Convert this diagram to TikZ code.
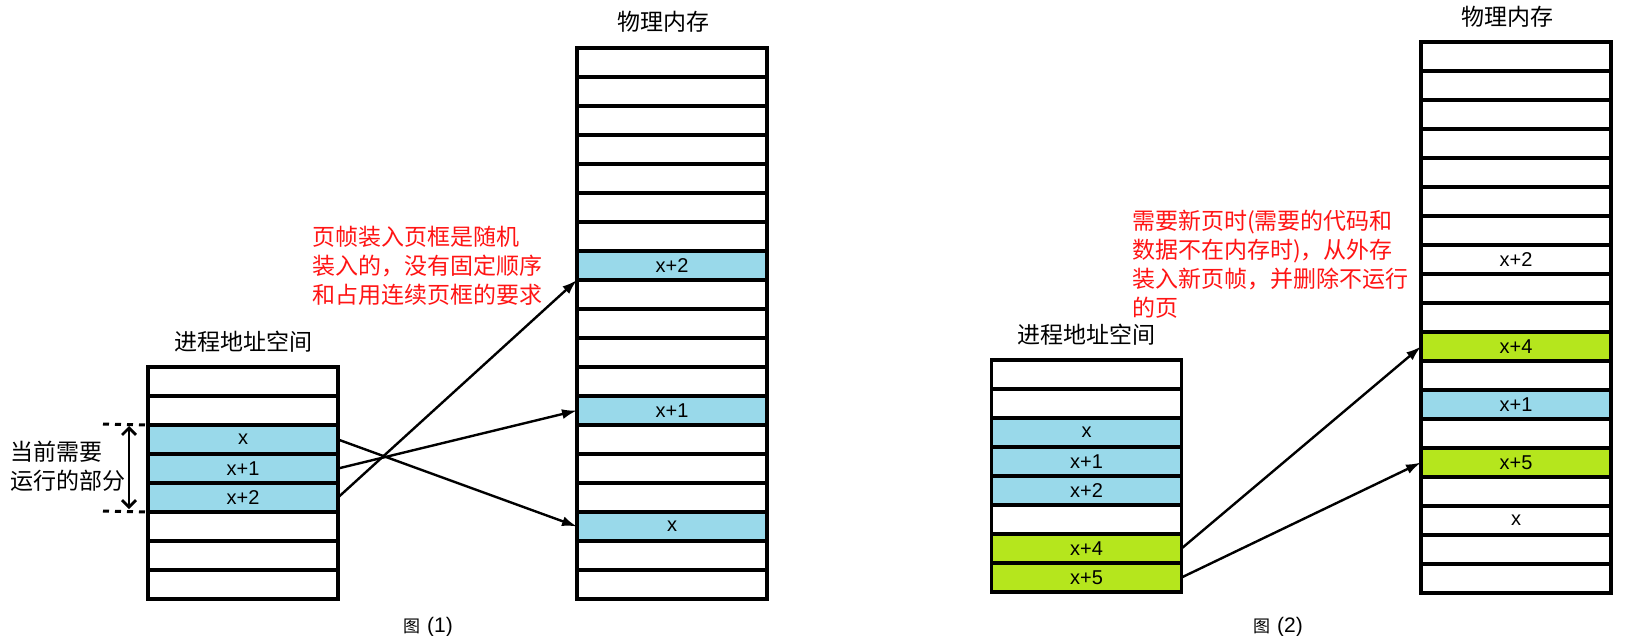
\documentclass[tikz,border=0pt]{standalone}
\usepackage{fontspec}
\setmainfont{Liberation Sans}
\newfontfamily\cjk{Noto Sans CJK SC}
\usepackage{tikz}
\usetikzlibrary{arrows.meta}
\definecolor{pageblue}{RGB}{153,217,234}
\definecolor{pagegreen}{RGB}{181,230,29}
\definecolor{notered}{RGB}{255,20,20}

\begin{document}
\begin{tikzpicture}[x=1pt,y=-1pt,
cell/.style={draw,line width=3.5pt,minimum width=190pt,minimum height=29pt,inner sep=0pt,outer sep=0pt,font=\fontsize{20}{24}\selectfont},
live/.style={cell,fill=pageblue},
fresh/.style={cell,fill=pagegreen},
head/.style={font=\cjk\fontsize{23}{28}\selectfont},
remark/.style={font=\cjk\fontsize{23}{29}\selectfont,text=notered,align=left,inner sep=0pt,anchor=west},
figcap/.style={font=\fontsize{21}{24}\selectfont},
t/.style={-{Latex[length=15pt,width=10pt]},line width=2.4pt}
]
\useasboundingbox (0,0) rectangle (1633,636);

% figure 1
\node[head] (pa1) at (243,342) {进程地址空间};
\foreach \i in {0,1,5,6,7}
  \node[cell] (p1-\i) at (243,{381.5+29*\i}) {};
\node[live] (p1-2) at (243,{381.5+29*2}) {x};
\node[live] (p1-3) at (243,{381.5+29*3}) {x+1};
\node[live] (p1-4) at (243,{381.5+29*4}) {x+2};

\node[head] (pm1) at (663,22) {物理内存};
\foreach \i in {0,...,6,8,9,10,11,13,14,15,17,18}
  \node[cell] (m1-\i) at (672,{62.5+29*\i}) {};
\node[live] (m1-7) at (672,{62.5+29*7}) {x+2};
\node[live] (m1-12) at (672,{62.5+29*12}) {x+1};
\node[live] (m1-16) at (672,{62.5+29*16}) {x};

\node[remark] (why1) at (312,266) {页帧装入页框是随机\\装入的，没有固定顺序\\和占用连续页框的要求};
\node[remark,text=black] (now) at (10,466) {当前需要\\运行的部分};

\coordinate (dtop) at (103,424);
\coordinate (dbot) at (103,511);
\coordinate (btop) at (129,426);
\coordinate (bbot) at (129,509);
\draw[line width=3pt,dash pattern=on 6pt off 6pt] (dtop) -- (p1-2.north west);
\draw[line width=3pt,dash pattern=on 6pt off 6pt] (dbot) -- (p1-4.south west);
\draw[line width=2.8pt,{Straight Barb[length=7pt,width=14pt]}-{Straight Barb[length=7pt,width=14pt]}] (btop) -- (bbot);

\draw[t] (p1-2.east) -- (m1-16.west);
\draw[t] (p1-3.east) -- (m1-12.west);
\draw[t] (p1-4.east) -- (m1-7.south west);

\node[figcap] (cap1) at (428,627) {{\cjk\fontsize{17}{20}\selectfont 图}\hspace{7pt}(1)};

% figure 2
\node[head] (pa2) at (1086,335) {进程地址空间};
\foreach \i in {0,1,5}
  \node[cell] (p2-\i) at (1086.5,{374.5+29*\i}) {};
\node[live] (p2-2) at (1086.5,{374.5+29*2}) {x};
\node[live] (p2-3) at (1086.5,{374.5+29*3}) {x+1};
\node[live] (p2-4) at (1086.5,{374.5+29*4}) {x+2};
\node[fresh] (p2-6) at (1086.5,{374.5+29*6}) {x+4};
\node[fresh] (p2-7) at (1086.5,{374.5+29*7}) {x+5};

\node[head] (pm2) at (1507,17) {物理内存};
\foreach \i in {0,...,6,8,9,11,13,15,17,18}
  \node[cell] (m2-\i) at (1516,{56.5+29*\i}) {};
\node[cell] (m2-7) at (1516,{56.5+29*7}) {x+2};
\node[fresh] (m2-10) at (1516,{56.5+29*10}) {x+4};
\node[live] (m2-12) at (1516,{56.5+29*12}) {x+1};
\node[fresh] (m2-14) at (1516,{56.5+29*14}) {x+5};
\node[cell] (m2-16) at (1516,{56.5+29*16}) {x};

\node[remark] (why2) at (1132,264.5) {需要新页时(需要的代码和\\数据不在内存时)，从外存\\装入新页帧，并删除不运行\\的页};

\draw[t] (p2-6.east) -- (m2-10.west);
\draw[t] (p2-7.east) -- (m2-14.west);

\node[figcap] (cap2) at (1278,627) {{\cjk\fontsize{17}{20}\selectfont 图}\hspace{7pt}(2)};
\end{tikzpicture}
\end{document}
